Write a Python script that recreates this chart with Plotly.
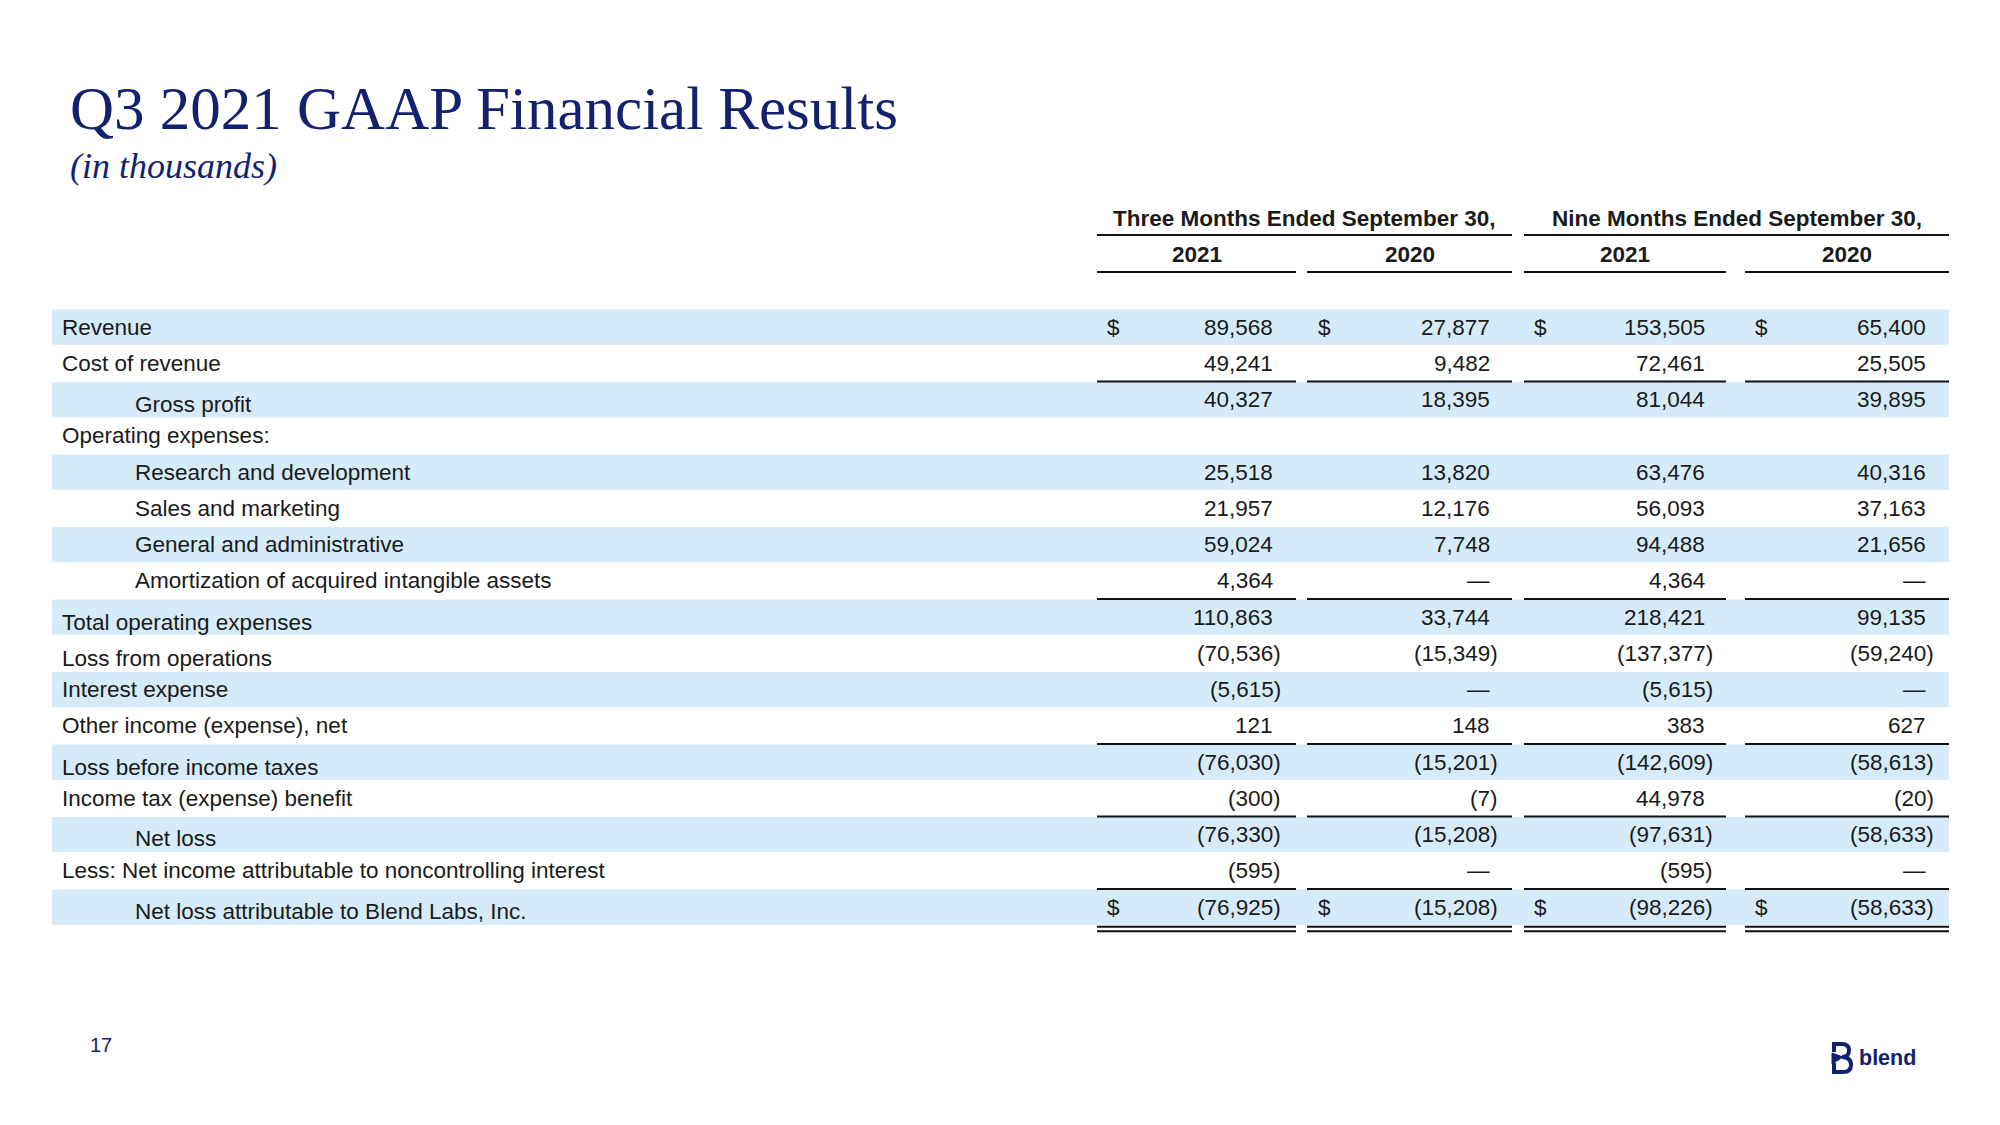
import plotly.graph_objects as go

# ---------------- data ----------------
title_text = "Q3 2021 GAAP Financial Results"
subtitle_text = "(in thousands)"
group_headers = ["Three Months Ended September 30,", "Nine Months Ended September 30,"]
year_headers = ["2021", "2020", "2021", "2020"]

row_labels = [
    "Revenue",
    "Cost of revenue",
    "Gross profit",
    "Operating expenses:",
    "Research and development",
    "Sales and marketing",
    "General and administrative",
    "Amortization of acquired intangible assets",
    "Total operating expenses",
    "Loss from operations",
    "Interest expense",
    "Other income (expense), net",
    "Loss before income taxes",
    "Income tax (expense) benefit",
    "Net loss",
    "Less: Net income attributable to noncontrolling interest",
    "Net loss attributable to Blend Labs, Inc.",
]
row_indent = [0, 0, 1, 0, 1, 1, 1, 1, 0, 0, 0, 0, 0, 0, 1, 0, 1]

q3_2021 = [89568, 49241, 40327, None, 25518, 21957, 59024, 4364, 110863, -70536, -5615, 121, -76030, -300, -76330, -595, -76925]
q3_2020 = [27877, 9482, 18395, None, 13820, 12176, 7748, 0, 33744, -15349, 0, 148, -15201, -7, -15208, 0, -15208]
ytd_2021 = [153505, 72461, 81044, None, 63476, 56093, 94488, 4364, 218421, -137377, -5615, 383, -142609, 44978, -97631, -595, -98226]
ytd_2020 = [65400, 25505, 39895, None, 40316, 37163, 21656, 0, 99135, -59240, 0, 627, -58613, -20, -58633, 0, -58633]

dollar_rows = [0, 16]
rule_above_rows = [2, 8, 12, 14, 16]
page_number = "17"
logo_text = "blend"

# ---------------- style / layout ----------------
W, H = 2000, 1125
NAVY = "#13226f"
TXT = "#1a1a1a"
BAND = "#d5ebf9"
SANS = "Liberation Sans, Arial, sans-serif"
SERIF = "Liberation Serif, Times New Roman, serif"
FS = 22.5

row_top0 = 309
row_h = 36.25
band_x0, band_x1 = 52, 1949
col_spans = [(1097, 1296), (1307, 1512), (1524, 1726), (1745, 1949)]
col_digit_edge = [1275, 1492, 1707, 1928]
col_dollar_x = [1105, 1316, 1532, 1753]
paren_w = 7.5
label_x = [60, 133]
label_dy = [0, 0, 5, 0, 0, 0, 0, 0, 5, 5, 0, 0, 5, 0, 4, 0, 4]

columns = [q3_2021, q3_2020, ytd_2021, ytd_2020]


def fmt(v):
    if v is None:
        return ""
    if v == 0:
        return "\u2014"
    s = f"{abs(v):,}"
    return f"({s})" if v < 0 else s


fig = go.Figure()
fig.add_trace(go.Scatter(x=[0, W], y=[0, H], mode="markers",
                         marker=dict(opacity=0), hoverinfo="skip", showlegend=False))

shapes = []
ann = []


def row_center(i):
    return row_top0 + row_h * i + row_h / 2


# bands
for i in range(len(row_labels)):
    if i % 2 == 0:
        y0 = row_top0 + row_h * i
        shapes.append(dict(type="rect", xref="x", yref="y", x0=band_x0, x1=band_x1,
                           y0=y0 + 0.5, y1=y0 + row_h - 0.5, fillcolor=BAND,
                           line=dict(width=0), layer="below"))

# rules
LINE = dict(color="#111111", width=2)
for i in rule_above_rows:
    y = row_top0 + row_h * i
    for (a, b) in col_spans:
        shapes.append(dict(type="line", xref="x", yref="y", x0=a, x1=b, y0=y, y1=y, line=LINE))
last_bottom = row_top0 + row_h * len(row_labels)
for dy in (1.5, 6):
    for (a, b) in col_spans:
        shapes.append(dict(type="line", xref="x", yref="y", x0=a, x1=b,
                           y0=last_bottom + dy, y1=last_bottom + dy, line=LINE))

# header rules
for (a, b) in [(col_spans[0][0], col_spans[1][1]), (col_spans[2][0], col_spans[3][1])]:
    shapes.append(dict(type="line", xref="x", yref="y", x0=a, x1=b, y0=235, y1=235, line=LINE))
for (a, b) in col_spans:
    shapes.append(dict(type="line", xref="x", yref="y", x0=a, x1=b, y0=272, y1=272, line=LINE))

# headers
grp_centers = [(col_spans[0][0] + col_spans[1][1]) / 2, (col_spans[2][0] + col_spans[3][1]) / 2]
for t, cx in zip(group_headers, grp_centers):
    ann.append(dict(x=cx, y=218, text=f"<b>{t}</b>", xanchor="center", yanchor="middle",
                    font=dict(family=SANS, size=FS, color=TXT)))
for t, (a, b) in zip(year_headers, col_spans):
    ann.append(dict(x=(a + b) / 2, y=254, text=f"<b>{t}</b>", xanchor="center", yanchor="middle",
                    font=dict(family=SANS, size=FS, color=TXT)))

# labels
for i, lab in enumerate(row_labels):
    ann.append(dict(x=label_x[row_indent[i]], y=row_center(i) + label_dy[i], text=lab,
                    xanchor="left", yanchor="middle",
                    font=dict(family=SANS, size=FS, color=TXT)))

# values
for c, vals in enumerate(columns):
    for i, v in enumerate(vals):
        s = fmt(v)
        if not s:
            continue
        x = col_digit_edge[c] + (paren_w if (v is not None and v < 0) else 0)
        ann.append(dict(x=x, y=row_center(i), text=s, xanchor="right", yanchor="middle",
                        font=dict(family=SANS, size=FS, color=TXT)))
    for i in dollar_rows:
        ann.append(dict(x=col_dollar_x[c], y=row_center(i), text="$", xanchor="left",
                        yanchor="middle", font=dict(family=SANS, size=FS, color=TXT)))

# title
ann.append(dict(x=68, y=108, text=title_text, xanchor="left", yanchor="middle",
                font=dict(family=SERIF, size=61, color=NAVY)))
ann.append(dict(x=68, y=166, text=f"<i>{subtitle_text}</i>", xanchor="left", yanchor="middle",
                font=dict(family=SERIF, size=36, color=NAVY)))

# page number
ann.append(dict(x=88, y=1045, text=page_number, xanchor="left", yanchor="middle",
                font=dict(family=SANS, size=20, color=NAVY)))

# logo
ann.append(dict(x=1857, y=1058, text=f"<b>{logo_text}</b>", xanchor="left", yanchor="middle",
                font=dict(family=SANS, size=21.5, color=NAVY)))
shapes.append(dict(type="path", xref="x", yref="y",
                   path="M 1834,1052 V 1044 H 1842 Q 1849,1044 1849,1050.5 Q 1849,1057 1842,1057 "
                        "Q 1851,1057 1851,1065 Q 1851,1072 1843,1072 H 1834 V 1063",
                   line=dict(color=NAVY, width=4)))
shapes.append(dict(type="path", xref="x", yref="y",
                   path="M 1832,1053 L 1832,1064 L 1843,1057 Z",
                   fillcolor=NAVY, line=dict(color=NAVY, width=1)))

for a in ann:
    a.setdefault("xref", "x")
    a.setdefault("yref", "y")
    a["showarrow"] = False

fig.update_layout(
    width=W, height=H,
    margin=dict(l=0, r=0, t=0, b=0),
    paper_bgcolor="white", plot_bgcolor="white",
    xaxis=dict(range=[0, W], visible=False, fixedrange=True),
    yaxis=dict(range=[H, 0], visible=False, fixedrange=True),
    shapes=shapes, annotations=ann, showlegend=False,
)

fig.write_html("out.html", config={"displayModeBar": False},
               post_script="document.body.style.margin='0';document.body.style.overflow='hidden';")
